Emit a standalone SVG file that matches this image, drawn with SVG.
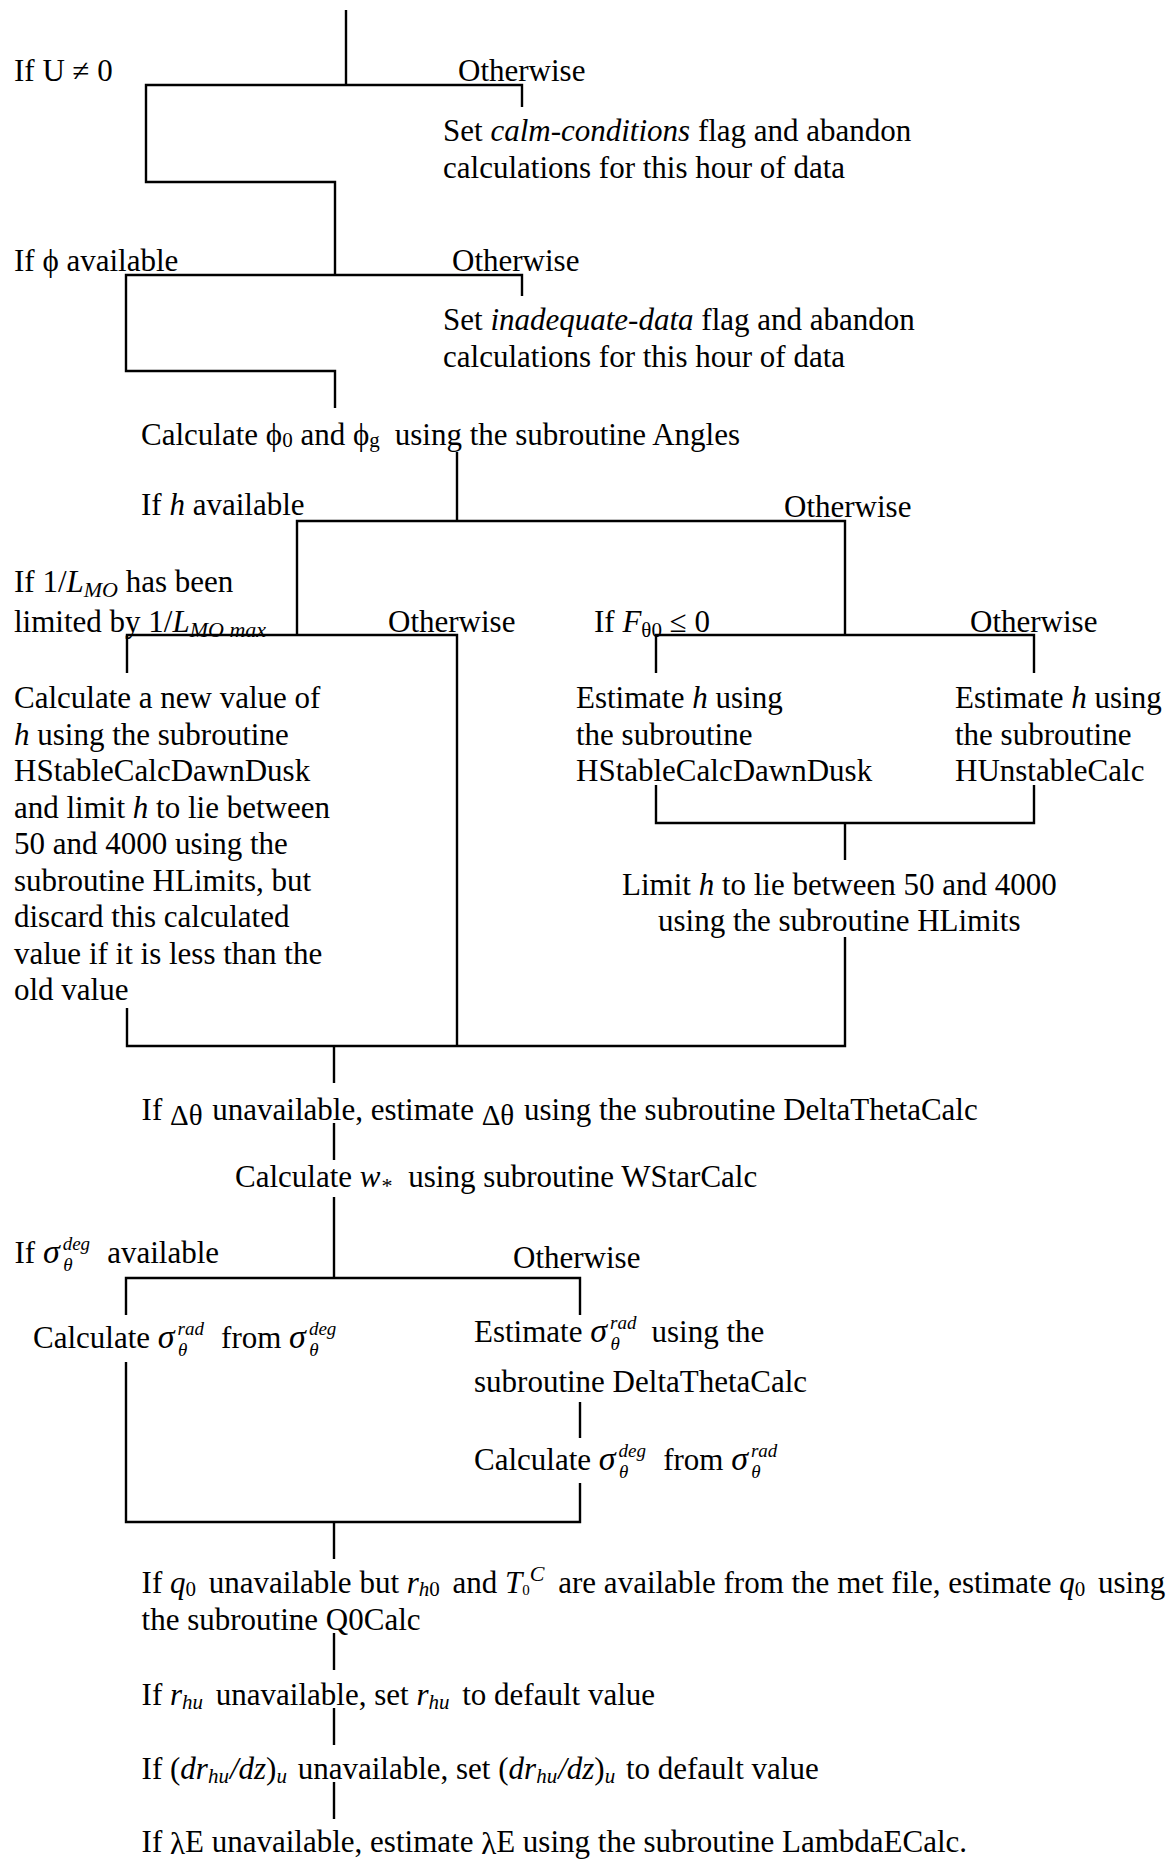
<svg xmlns="http://www.w3.org/2000/svg" width="1175" height="1859" viewBox="0 0 1175 1859">
<style>
text { font-family: "Liberation Serif", "Times New Roman", "DejaVu Serif", serif; font-size: 31px; fill: #000; }
.i { font-style: italic; }
.sub { font-size: 21px; }
.sup { font-size: 19px; font-style: italic; }
.sg { font-size: 34px; font-style: italic; }
.gr { font-size: 29px; }
#connectors path { stroke: #000; stroke-width: 2.4; fill: none; }
</style>
<rect width="1175" height="1859" fill="#fff"/>
<g id="connectors">
<path d="M346 10 V85"/>
<path d="M522 107 V85 H146 V182 H335 V275"/>
<path d="M522 296 V275 H126 V371 H335 V408"/>
<path d="M457 452 V521"/>
<path d="M297 635 V521 H845 V635"/>
<path d="M127 673 V635 H457 V1046"/>
<path d="M656 673 V635 H1034 V673"/>
<path d="M656 785 V823 H1034 V785"/>
<path d="M845 823 V860"/>
<path d="M845 937 V1046 H127 V1008"/>
<path d="M334 1046 V1083"/>
<path d="M334 1123 V1160"/>
<path d="M334 1197 V1278"/>
<path d="M126 1315 V1278 H580 V1315"/>
<path d="M580 1402 V1438"/>
<path d="M126 1362 V1522 H580 V1483"/>
<path d="M334 1522 V1559"/>
<path d="M334 1633 V1670"/>
<path d="M334 1708 V1745"/>
<path d="M334 1782 V1819"/>
</g>
<g id="n-if-u"><text x="14" y="81">If U ≠ 0</text></g>
<g id="n-otherwise-1"><text x="458" y="81">Otherwise</text></g>
<g id="n-calm"><text x="443" y="141">Set <tspan class="i">calm-conditions</tspan> flag and abandon</text><text x="443" y="178">calculations for this hour of data</text></g>
<g id="n-if-phi"><text x="14" y="271">If ϕ available</text></g>
<g id="n-otherwise-2"><text x="452" y="271">Otherwise</text></g>
<g id="n-inadequate"><text x="443" y="330">Set <tspan class="i">inadequate-data</tspan> flag and abandon</text><text x="443" y="367">calculations for this hour of data</text></g>
<g id="n-angles"><text x="141" y="445">Calculate ϕ<tspan class="sub" dy="2">0</tspan><tspan dy="-2"> and ϕ</tspan><tspan class="sub" dy="2">g</tspan><tspan dy="-2" dx="15">using the subroutine Angles</tspan></text></g>
<g id="n-if-h"><text x="141" y="515">If <tspan class="i">h</tspan> available</text></g>
<g id="n-otherwise-3"><text x="784" y="517">Otherwise</text></g>
<g id="n-if-lmo"><text x="14" y="592">If 1/<tspan class="i">L</tspan><tspan class="i" font-size="22" dy="5">MO</tspan><tspan dy="-5"> has been</tspan></text><text x="14" y="632">limited by 1/<tspan class="i">L</tspan><tspan class="i" font-size="22" dy="5">MO max</tspan></text></g>
<g id="n-otherwise-4"><text x="388" y="632">Otherwise</text></g>
<g id="n-if-f"><text x="594" y="632">If <tspan class="i">F</tspan><tspan class="sub" dy="5">θ0</tspan><tspan dy="-5"> ≤ 0</tspan></text></g>
<g id="n-otherwise-5"><text x="970" y="632">Otherwise</text></g>
<g id="n-new-h">
<text x="14" y="708">Calculate a new value of</text>
<text x="14" y="744.5"><tspan class="i">h</tspan> using the subroutine</text>
<text x="14" y="781">HStableCalcDawnDusk</text>
<text x="14" y="817.5">and limit <tspan class="i">h</tspan> to lie between</text>
<text x="14" y="854">50 and 4000 using the</text>
<text x="14" y="890.5">subroutine HLimits, but</text>
<text x="14" y="927">discard this calculated</text>
<text x="14" y="963.5">value if it is less than the</text>
<text x="14" y="1000">old value</text>
</g>
<g id="n-est-stable"><text x="576" y="708">Estimate <tspan class="i">h</tspan> using</text><text x="576" y="744.5">the subroutine</text><text x="576" y="781">HStableCalcDawnDusk</text></g>
<g id="n-est-unstable"><text x="955" y="708">Estimate <tspan class="i">h</tspan> using</text><text x="955" y="744.5">the subroutine</text><text x="955" y="781">HUnstableCalc</text></g>
<g id="n-limit"><text x="622" y="895">Limit <tspan class="i">h</tspan> to lie between 50 and 4000</text><text x="658" y="931">using the subroutine HLimits</text></g>
<g id="n-delta"><text x="141.6" y="1120">If <tspan class="gr" dy="5">Δθ</tspan><tspan dy="-5" dx="2"> unavailable, estimate </tspan><tspan class="gr" dy="5">Δθ</tspan><tspan dy="-5" dx="2"> using the subroutine DeltaThetaCalc</tspan></text></g>
<g id="n-wstar"><text x="235" y="1187">Calculate <tspan class="i">w</tspan><tspan font-size="22" dy="6" dx="1">*</tspan><tspan dy="-6" dx="8"> using subroutine WStarCalc</tspan></text></g>
<g id="n-if-sigma"><text x="14.5" y="1263">If <tspan class="sg">σ</tspan><tspan class="sup" dx="3" dy="-13">deg</tspan><tspan class="sup" dx="-27" dy="21">θ</tspan><tspan dx="27" dy="-8"> available</tspan></text></g>
<g id="n-otherwise-6"><text x="513" y="1268">Otherwise</text></g>
<g id="n-calc-rad"><text x="33" y="1348">Calculate <tspan class="sg">σ</tspan><tspan class="sup" dx="3" dy="-13">rad</tspan><tspan class="sup" dx="-26" dy="21">θ</tspan><tspan dx="26" dy="-8"> from </tspan><tspan class="sg">σ</tspan><tspan class="sup" dx="3" dy="-13">deg</tspan><tspan class="sup" dx="-27" dy="21">θ</tspan></text></g>
<g id="n-est-rad"><text x="474" y="1342">Estimate <tspan class="sg">σ</tspan><tspan class="sup" dx="3" dy="-13">rad</tspan><tspan class="sup" dx="-26" dy="21">θ</tspan><tspan dx="24" dy="-8"> using the</tspan></text><text x="474" y="1392">subroutine DeltaThetaCalc</text></g>
<g id="n-calc-deg"><text x="474" y="1470">Calculate <tspan class="sg">σ</tspan><tspan class="sup" dx="3" dy="-13">deg</tspan><tspan class="sup" dx="-27" dy="21">θ</tspan><tspan dx="27" dy="-8"> from </tspan><tspan class="sg">σ</tspan><tspan class="sup" dx="3" dy="-13">rad</tspan><tspan class="sup" dx="-26" dy="21">θ</tspan></text></g>
<g id="n-q0"><text x="141.6" y="1593">If <tspan class="i">q</tspan><tspan class="sub" dy="3">0</tspan><tspan dy="-3" dx="5"> unavailable but </tspan><tspan class="i">r</tspan><tspan class="i sub" dy="3">h</tspan><tspan class="sub">0</tspan><tspan dy="-3" dx="5"> and </tspan><tspan class="i">T</tspan><tspan font-size="15" dy="2">0</tspan><tspan class="i" font-size="22" dy="-14">C</tspan><tspan dy="12" dx="6"> are available from the met file, estimate </tspan><tspan class="i">q</tspan><tspan class="sub" dy="3">0</tspan><tspan dy="-3" dx="5"> using</tspan></text><text x="141.6" y="1630">the subroutine Q0Calc</text></g>
<g id="n-rhu"><text x="141.6" y="1705">If <tspan class="i">r</tspan><tspan class="i sub" dy="4">hu</tspan><tspan dy="-4" dx="5"> unavailable, set </tspan><tspan class="i">r</tspan><tspan class="i sub" dy="4">hu</tspan><tspan dy="-4" dx="5"> to default value</tspan></text></g>
<g id="n-drhu"><text x="141.6" y="1779">If (<tspan class="i">dr</tspan><tspan class="i sub" dy="4">hu</tspan><tspan class="i" dy="-4" dx="1">/dz</tspan>)<tspan class="i sub" dy="4">u</tspan><tspan dy="-4" dx="3"> unavailable, set (</tspan><tspan class="i">dr</tspan><tspan class="i sub" dy="4">hu</tspan><tspan class="i" dy="-4" dx="1">/dz</tspan>)<tspan class="i sub" dy="4">u</tspan><tspan dy="-4" dx="3"> to default value</tspan></text></g>
<g id="n-lambda"><text x="141.6" y="1852">If <tspan dy="2">λ</tspan><tspan dy="-2">E unavailable, estimate </tspan><tspan dy="2">λ</tspan><tspan dy="-2">E using the subroutine LambdaECalc.</tspan></text></g>
</svg>
